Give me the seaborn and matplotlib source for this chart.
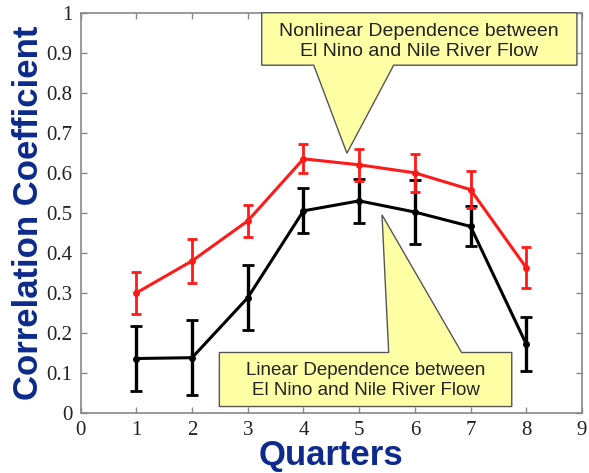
import pandas as pd
import matplotlib
matplotlib.use("Agg")
import matplotlib.pyplot as plt
from matplotlib.patches import Polygon
import seaborn as sns

# Data
quarters = [1, 2, 3, 4, 5, 6, 7, 8]
nonlinear_corr = [0.30, 0.38, 0.48, 0.635, 0.62, 0.60, 0.558, 0.363]
nonlinear_err = [0.053, 0.055, 0.040, 0.036, 0.040, 0.047, 0.047, 0.052]
linear_corr = [0.136, 0.138, 0.288, 0.505, 0.530, 0.502, 0.466, 0.172]
linear_err = [0.080, 0.094, 0.082, 0.056, 0.055, 0.080, 0.050, 0.068]

x_ticks = [0, 1, 2, 3, 4, 5, 6, 7, 8, 9]
y_ticks = [0, 0.1, 0.2, 0.3, 0.4, 0.5, 0.6, 0.7, 0.8, 0.9, 1.0]
y_tick_labels = ['0', '0.1', '0.2', '0.3', '0.4', '0.5', '0.6', '0.7', '0.8', '0.9', '1']

top_note = 'Nonlinear Dependence between\nEl Nino and Nile River Flow'
bottom_note = 'Linear Dependence between\nEl Nino and Nile River Flow'


def build_frame():
    df_nl = pd.DataFrame({'Quarter': quarters, 'Corr': nonlinear_corr,
                          'Err': nonlinear_err, 'Kind': 'Nonlinear'})
    df_l = pd.DataFrame({'Quarter': quarters, 'Corr': linear_corr,
                         'Err': linear_err, 'Kind': 'Linear'})
    return pd.concat([df_nl, df_l], ignore_index=True)


def callout(ax, box, base, tip, text, text_xy, size):
    # box = (x0, x1, y0, y1); pointer base sits on the y-edge given in base
    x0, x1, y0, y1 = box
    bx0, bx1, by = base
    if by == y0:
        pts = [(x0, y1), (x1, y1), (x1, y0), (bx1, by), tip, (bx0, by), (x0, y0)]
    else:
        pts = [(x0, y0), (x1, y0), (x1, y1), (bx1, by), tip, (bx0, by), (x0, y1)]
    poly = Polygon(pts, closed=True, facecolor='#ffffa6', edgecolor='#555555',
                   linewidth=1.0, zorder=5, clip_on=False)
    ax.add_patch(poly)
    ax.text(text_xy[0], text_xy[1], text, ha='center', va='center',
            fontsize=size, color='#222222', family='Liberation Sans',
            linespacing=1.25, zorder=6)


def main():
    sns.set_style("ticks")
    plt.rcParams['font.family'] = ['Liberation Serif', 'DejaVu Serif']

    df = build_frame()
    colors = {'Nonlinear': '#ff1a1a', 'Linear': '#000000'}

    fig = plt.figure(figsize=(5.89, 4.73), dpi=100)
    ax = fig.add_axes([0.137, 0.127, 0.851, 0.846])

    sns.lineplot(data=df, x='Quarter', y='Corr', hue='Kind', palette=colors,
                 marker='o', markersize=5, markeredgewidth=0, linewidth=2.2,
                 legend=False, ax=ax, zorder=3)
    for kind, sub in df.groupby('Kind'):
        ax.errorbar(sub['Quarter'], sub['Corr'], yerr=sub['Err'], fmt='none',
                    ecolor=colors[kind], elinewidth=2.4 if kind == 'Linear' else 2.0,
                    capsize=4.2 if kind == 'Linear' else 3.6, capthick=2.0, zorder=3)

    ax.set_xlim(0, 9)
    ax.set_ylim(0, 1)
    ax.set_xticks(x_ticks)
    ax.set_xticklabels([str(t) for t in x_ticks])
    ax.set_yticks(y_ticks)
    ax.set_yticklabels(y_tick_labels)
    ax.tick_params(direction='in', top=True, right=True, length=4, width=1,
                   color='#888888', labelsize=15, pad=6, labelcolor='#222222',
                   labelfontfamily='Liberation Serif')
    for sp in ax.spines.values():
        sp.set_color('#888888')
        sp.set_linewidth(1.2)

    label_font = dict(family='Liberation Sans', fontweight='bold',
                      fontsize=25, color='#0d2a8c')
    ax.set_xlabel('Quarters', labelpad=-1, **label_font)
    ax.set_ylabel('Correlation Coefficient', labelpad=1, **label_font)

    # Callout boxes
    callout(ax, (3.25, 8.91, 0.869, 1.0), (4.185, 5.62, 0.869), (4.78, 0.649),
            top_note, (6.08, 0.928), 14)
    callout(ax, (2.49, 7.74, 0.016, 0.151), (5.53, 6.84, 0.151), (5.41, 0.495),
            bottom_note, (5.12, 0.081), 13.5)

    plt.savefig('out.png', dpi=100)
    plt.close()


if __name__ == "__main__":
    main()
